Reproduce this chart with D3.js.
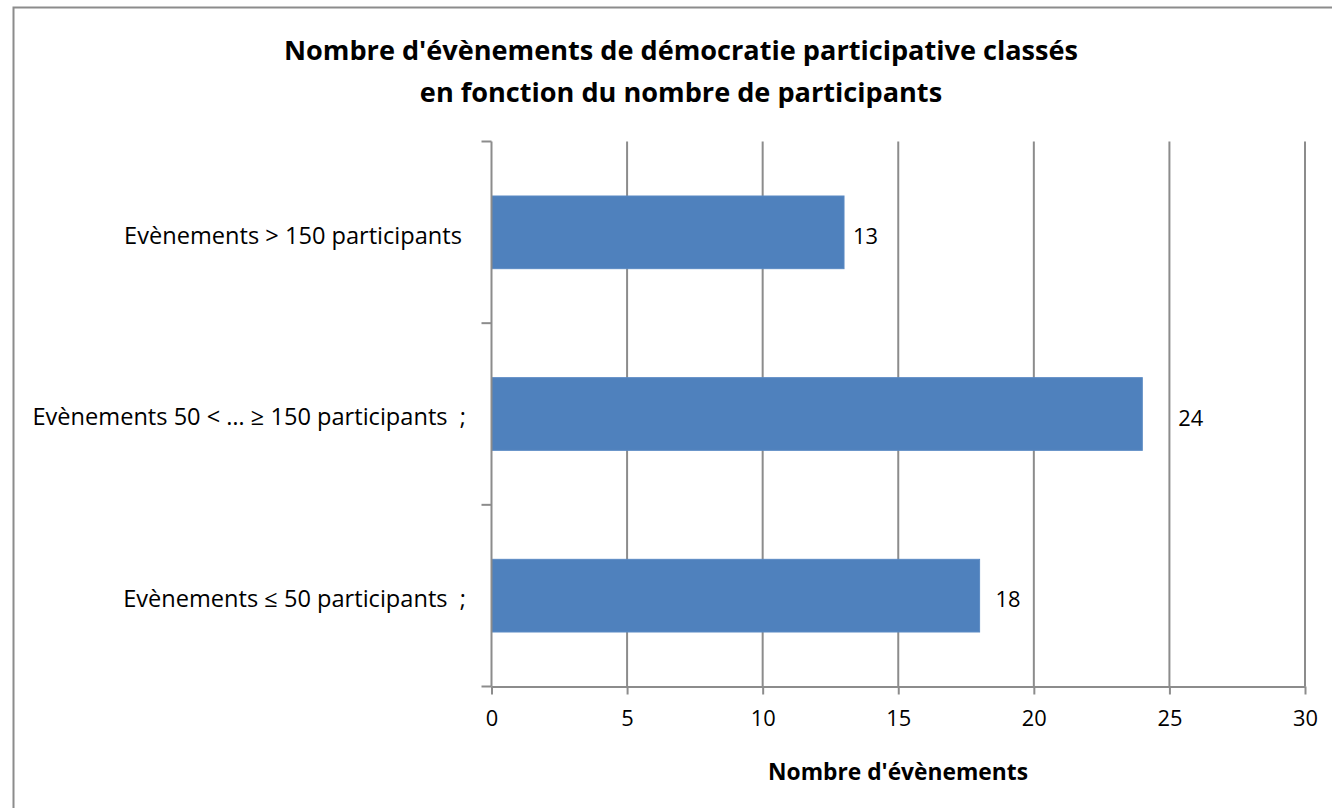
<!DOCTYPE html>
<html>
<head>
<meta charset="utf-8">
<script src="https://cdn.jsdelivr.net/npm/d3@7"></script>
<style>
  html, body { margin: 0; padding: 0; background: #fff; }
  svg { display: block; }
  text { font-family: "Open Sans", Lato, sans-serif; fill: #000; white-space: pre; }
</style>
</head>
<body>
<svg id="chart" width="1332" height="808"></svg>
<script>
const categories = [
  "Evènements > 150 participants",
  "Evènements 50 < … ≥ 150 participants  ;",
  "Evènements ≤ 50 participants  ;"
];
const values = [13, 24, 18];
const xTicks = [0, 5, 10, 15, 20, 25, 30];
const titleLines = [
  "Nombre d'évènements de démocratie participative classés",
  "en fonction du nombre de participants"
];
const xAxisTitle = "Nombre d'évènements";

const svg = d3.select("#chart");
const W = 1332, H = 808;
const plot = { left: 491.5, right: 1305, top: 141.5, bottom: 686.5 };
const labelOffsets = [9, 36, 16];

// fit font size of a selection so its first element matches a target width
function fitWidth(sel, target) {
  const node = sel.node();
  const fs = parseFloat(node.getAttribute("font-size"));
  const w = node.getComputedTextLength();
  sel.attr("font-size", (fs * target / w).toFixed(2));
}

// outer frame
svg.append("rect")
  .attr("x", 13.5).attr("y", 7.5)
  .attr("width", W + 20).attr("height", H + 20)
  .attr("fill", "#fff").attr("stroke", "#8c8c8c").attr("stroke-width", 2);

const x = d3.scaleLinear().domain([0, 30]).range([plot.left, plot.right]);
const y = d3.scaleBand().domain(categories).range([plot.top, plot.bottom])
  .paddingInner(0.6).paddingOuter(0.3);
const yEdges = d3.scaleLinear().domain([0, categories.length]).range([plot.top, plot.bottom]);

// gridlines
svg.append("g").selectAll("line").data(xTicks.filter(d => d > 0)).join("line")
  .attr("x1", d => x(d)).attr("x2", d => x(d))
  .attr("y1", plot.top).attr("y2", plot.bottom)
  .attr("stroke", "#8c8c8c").attr("stroke-width", 2);

// bars
svg.append("g").selectAll("rect").data(categories).join("rect")
  .attr("x", x(0))
  .attr("y", d => y(d))
  .attr("width", (d, i) => x(values[i]) - x(0))
  .attr("height", y.bandwidth())
  .attr("fill", "#4f81bd")
  .attr("stroke", "#5a8ac4").attr("stroke-width", 1);

// y axis line + ticks
const yAxis = svg.append("g");
yAxis.append("line")
  .attr("x1", plot.left).attr("x2", plot.left)
  .attr("y1", plot.top).attr("y2", plot.bottom)
  .attr("stroke", "#8c8c8c").attr("stroke-width", 2);
yAxis.selectAll("line.tk").data(d3.range(categories.length + 1)).join("line")
  .attr("class", "tk")
  .attr("x1", plot.left - 10).attr("x2", plot.left)
  .attr("y1", d => yEdges(d)).attr("y2", d => yEdges(d))
  .attr("stroke", "#8c8c8c").attr("stroke-width", 2);

// x axis
const xAxisG = svg.append("g").attr("transform", `translate(0,${plot.bottom})`)
  .call(d3.axisBottom(x).tickValues(xTicks).tickSize(8).tickPadding(16).tickSizeOuter(0));
xAxisG.select(".domain").attr("stroke", "#8c8c8c").attr("stroke-width", 2);
xAxisG.selectAll(".tick line").attr("stroke", "#8c8c8c").attr("stroke-width", 2);
const tickTexts = xAxisG.selectAll(".tick text")
  .attr("font-size", 18).attr("font-family", "'Open Sans', sans-serif").attr("fill", "#000");
fitWidth(tickTexts.filter(d => d === 30), 25);
tickTexts.attr("font-size", tickTexts.filter(d => d === 30).attr("font-size"));

// category labels
const catLabels = svg.append("g").selectAll("text").data(categories).join("text")
  .attr("x", (d, i) => i === 0 ? 462 : 466)
  .attr("y", d => y(d) + y.bandwidth() / 2 + 3)
  .attr("dy", "0.35em")
  .attr("text-anchor", "end")
  .attr("font-size", 18)
  .text(d => d);
fitWidth(catLabels, 338);

// value labels
const valLabels = svg.append("g").selectAll("text").data(categories).join("text")
  .attr("x", (d, i) => x(values[i]) + labelOffsets[i])
  .attr("y", d => y(d) + y.bandwidth() / 2 + 4)
  .attr("dy", "0.35em")
  .attr("font-size", 18)
  .text((d, i) => values[i]);
fitWidth(valLabels, 25);

// title
const title = svg.append("g").selectAll("text").data(titleLines).join("text")
  .attr("x", 681)
  .attr("y", (d, i) => 60 + i * 42)
  .attr("text-anchor", "middle")
  .attr("font-size", 22)
  .attr("font-weight", "bold")
  .text(d => d);
fitWidth(title, 794);

// axis title
const axt = svg.append("text")
  .attr("x", 898).attr("y", 780)
  .attr("text-anchor", "middle")
  .attr("font-size", 18)
  .attr("font-weight", "bold")
  .text(xAxisTitle);
fitWidth(axt, 260);
</script>
</body>
</html>
